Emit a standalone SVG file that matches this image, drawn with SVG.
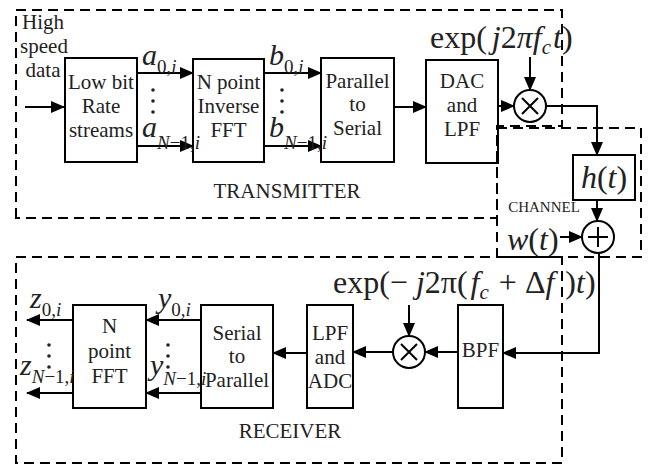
<svg xmlns="http://www.w3.org/2000/svg" width="651" height="466" viewBox="0 0 651 466">
<style>
.box{fill:none;stroke:#000;stroke-width:2}
.dash{fill:none;stroke:#000;stroke-width:2;stroke-dasharray:10 6}
.ln{fill:none;stroke:#000;stroke-width:2}
.arr{marker-end:url(#ah)}
.t{font-family:"Liberation Serif","Times New Roman",serif;font-size:21px;fill:#222;text-anchor:middle}
.m{font-family:"Liberation Serif","Times New Roman",serif;font-size:32px;fill:#222}
.s{font-family:"Liberation Serif","Times New Roman",serif;font-size:30px;fill:#222}
.i{font-style:italic}
.sub{font-size:19px}
.dot{fill:#222}
</style>
<defs>
<marker id="ah" markerWidth="14" markerHeight="12" refX="13" refY="6" orient="auto" markerUnits="userSpaceOnUse"><path d="M0,0 L14,6 L0,12 z" fill="#000"/></marker>
</defs>

<g id="regions">
<path class="dash" d="M16,218 L16,10 L562,10 L562,126 L497,126 L497,218 Z"/>
<rect class="dash" x="497" y="128" width="144" height="129"/>
<rect class="dash" x="16" y="257" width="546" height="206"/>
<text class="t" x="287" y="198">TRANSMITTER</text>
<text class="t" x="544" y="212" style="font-size:15px">CHANNEL</text>
<text class="t" x="290" y="438">RECEIVER</text>
</g>

<g id="connectors">
<path class="ln arr" d="M25,107 L64,107"/>
<path class="ln arr" d="M137,73 L193,73"/>
<path class="ln arr" d="M137,146 L193,146"/>
<path class="ln arr" d="M264,73 L321,73"/>
<path class="ln arr" d="M264,146 L321,146"/>
<path class="ln arr" d="M394,107 L426,107"/>
<path class="ln arr" d="M498,106 L514,106"/>
<path class="ln arr" d="M530,57 L530,90"/>
<path class="ln arr" d="M546,106 L597,106 L597,155"/>
<path class="ln arr" d="M597,200 L597,221"/>
<path class="ln arr" d="M560,237 L582,237"/>
<path class="ln arr" d="M599,253 L599,353 L503,353"/>
<path class="ln arr" d="M458,352 L425,352"/>
<path class="ln arr" d="M409,305 L409,336"/>
<path class="ln arr" d="M393,352 L353,352"/>
<path class="ln arr" d="M307,353 L273,353"/>
<path class="ln arr" d="M201,320 L146,320"/>
<path class="ln arr" d="M201,393 L146,393"/>
<path class="ln arr" d="M73,320 L27,320"/>
<path class="ln arr" d="M73,393 L27,393"/>
</g>

<g id="input-label">
<text class="t" x="43" y="29">High</text>
<text class="t" x="44" y="53">speed</text>
<text class="t" x="43" y="77">data</text>
</g>

<g id="lowbit">
<rect class="box" x="65" y="58" width="72" height="104"/>
<text class="t" x="101" y="89">Low bit</text>
<text class="t" x="101" y="113">Rate</text>
<text class="t" x="101" y="137">streams</text>
</g>

<g id="ifft">
<rect class="box" x="193" y="59" width="71" height="103"/>
<text class="t" x="228.5" y="89">N point</text>
<text class="t" x="228.5" y="113">Inverse</text>
<text class="t" x="228.5" y="137">FFT</text>
</g>

<g id="p2s">
<rect class="box" x="321" y="58" width="73" height="104"/>
<text class="t" x="357.5" y="88">Parallel</text>
<text class="t" x="357.5" y="111">to</text>
<text class="t" x="357.5" y="135">Serial</text>
</g>

<g id="dac">
<rect class="box" x="426" y="60" width="72" height="103"/>
<text class="t" x="462" y="88">DAC</text>
<text class="t" x="462" y="112">and</text>
<text class="t" x="462" y="136">LPF</text>
</g>

<g id="a-labels">
<text class="s" x="142" y="65"><tspan class="i">a</tspan><tspan class="sub" dy="8">0,<tspan class="i">i</tspan></tspan></text>
<circle class="dot" cx="153" cy="90" r="1.8"/><circle class="dot" cx="153" cy="101" r="1.8"/><circle class="dot" cx="153" cy="112" r="1.8"/>
<text class="s" x="142" y="137"><tspan class="i">a</tspan><tspan class="sub" dy="12"><tspan class="i">N</tspan>−1,<tspan class="i">i</tspan></tspan></text>
</g>

<g id="b-labels">
<text class="s" x="269" y="65"><tspan class="i">b</tspan><tspan class="sub" dy="8">0,<tspan class="i">i</tspan></tspan></text>
<circle class="dot" cx="282" cy="90" r="1.8"/><circle class="dot" cx="282" cy="101" r="1.8"/><circle class="dot" cx="282" cy="112" r="1.8"/>
<text class="s" x="269" y="137"><tspan class="i">b</tspan><tspan class="sub" dy="12"><tspan class="i">N</tspan>−1,<tspan class="i">i</tspan></tspan></text>
</g>

<g id="tx-mixer">
<circle class="box" cx="530" cy="106" r="16"/>
<path class="ln" d="M522,98 L538,114 M538,98 L522,114"/>
<text class="m" x="430" y="48">exp(<tspan class="i" dx="5">j</tspan>2<tspan class="i">π</tspan><tspan class="i">f</tspan><tspan class="i" font-size="21" dy="6">c</tspan><tspan class="i" dy="-6" dx="2">t</tspan>)</text>
</g>

<g id="channel-h">
<rect class="box" x="573" y="155" width="62" height="45"/>
<text class="m" x="604" y="188" text-anchor="middle" style="font-size:32px"><tspan class="i">h</tspan>(<tspan class="i">t</tspan>)</text>
</g>

<g id="adder">
<circle class="box" cx="598" cy="237" r="16"/>
<path class="ln" d="M588,237 L608,237 M598,227 L598,247"/>
<text class="m" x="507" y="250"><tspan class="i">w</tspan>(<tspan class="i">t</tspan>)</text>
</g>

<g id="bpf">
<rect class="box" x="458" y="305" width="45" height="103"/>
<text class="t" x="480.5" y="357">BPF</text>
</g>

<g id="rx-mixer">
<circle class="box" cx="409" cy="352" r="16"/>
<path class="ln" d="M401,344 L417,360 M417,344 L401,360"/>
<text class="m" x="333" y="293">exp(− <tspan class="i">j</tspan>2π(<tspan class="i" dx="3">f</tspan><tspan class="i" font-size="21" dy="6">c</tspan><tspan dy="-6" dx="2"> + Δ</tspan><tspan class="i">f</tspan><tspan dx="3"> )</tspan><tspan class="i">t</tspan>)</text>
</g>

<g id="lpf-adc">
<rect class="box" x="307" y="305" width="46" height="103"/>
<text class="t" x="330" y="340">LPF</text>
<text class="t" x="330" y="364">and</text>
<text class="t" x="330" y="388">ADC</text>
</g>

<g id="s2p">
<rect class="box" x="201" y="305" width="72" height="103"/>
<text class="t" x="237" y="340">Serial</text>
<text class="t" x="237" y="363">to</text>
<text class="t" x="237" y="387">Parallel</text>
</g>

<g id="fft">
<rect class="box" x="73" y="305" width="73" height="103"/>
<text class="t" x="109.5" y="333">N</text>
<text class="t" x="109.5" y="358">point</text>
<text class="t" x="109.5" y="383">FFT</text>
</g>

<g id="y-labels">
<text class="s" x="158" y="308"><tspan class="i">y</tspan><tspan class="sub" dy="8">0,<tspan class="i">i</tspan></tspan></text>
<circle class="dot" cx="168" cy="345" r="1.8"/><circle class="dot" cx="168" cy="356" r="1.8"/><circle class="dot" cx="168" cy="367" r="1.8"/>
<text class="s" x="150" y="375"><tspan class="i">y</tspan><tspan class="sub" dy="10"><tspan class="i">N</tspan>−1,<tspan class="i">i</tspan></tspan></text>
</g>

<g id="z-labels">
<text class="s" x="30" y="308"><tspan class="i">z</tspan><tspan class="sub" dy="8">0,<tspan class="i">i</tspan></tspan></text>
<circle class="dot" cx="49" cy="345" r="1.8"/><circle class="dot" cx="49" cy="356" r="1.8"/><circle class="dot" cx="49" cy="367" r="1.8"/>
<text class="s" x="20" y="375"><tspan class="i">z</tspan><tspan class="sub" dy="8"><tspan class="i">N</tspan>−1,<tspan class="i">i</tspan></tspan></text>
</g>
</svg>
